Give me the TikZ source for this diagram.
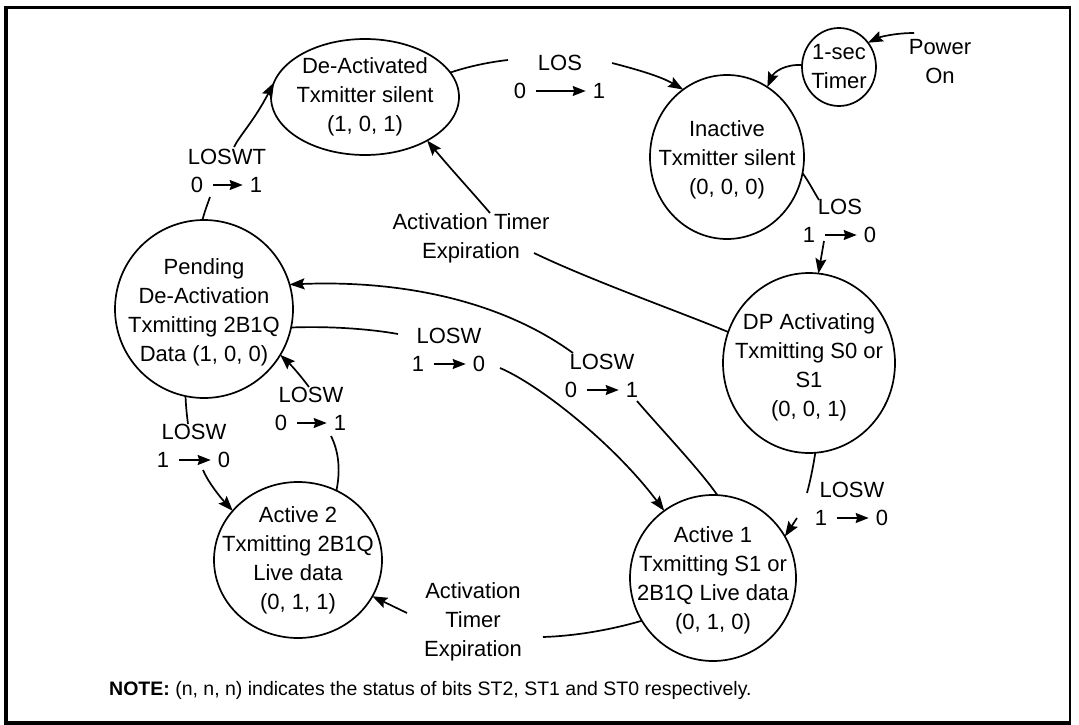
\documentclass[tikz,border=0pt]{standalone}
\usepackage{fontspec}
\setmainfont{Liberation Sans}
\usetikzlibrary{arrows.meta,shapes.geometric}
\newcommand\trlbl[7]{%
  \node[lbl] (#1) at (#2,#3) {#4};
  \node[lbl] (#1a) at ({#2-#7},{#3+28}) {#5};
  \node[lbl] (#1b) at ({#2+#7-1},{#3+28}) {#6};
  \draw[lblarrow] ([xshift=10pt]#1a.east) -- ([xshift=-7pt]#1b.west);
}
\begin{document}
\begin{tikzpicture}[x=1pt,y=-1pt,
  state/.style={ellipse,draw,line width=1.7pt,inner sep=0pt,outer sep=0pt},
  stxt/.style={align=center,font=\fontsize{22}{29}\selectfont,inner sep=0pt},
  lbl/.style={font=\fontsize{22}{27}\selectfont,inner sep=0pt,align=center},
  conn/.style={line width=1.7pt},
  arr/.style={conn,-{Stealth[length=15pt,width=11pt,inset=2.5pt]}},
  lblarrow/.style={line width=1.4pt,-{Stealth[length=13pt,width=10pt,inset=1.5pt]}},
]
\useasboundingbox (0,0) rectangle (1079,725);
% frame
\draw[line width=2.5pt] (6,7.5) rectangle (1070,722);
\draw[line width=4.5pt] (6,6.3) -- (6,723.5) -- (1071,723.5);

% states
\node[state,minimum width=188pt,minimum height=116pt,
  label={[stxt]center:{De-Activated\\Txmitter silent\\(1, 0, 1)}}] (deact) at (365,97) {};
\node[state,minimum width=154pt,minimum height=164pt,
  label={[stxt,yshift=-3pt]center:{Inactive\\Txmitter silent\\(0, 0, 0)}}] (inactive) at (727,157) {};
\node[state,minimum width=74pt,minimum height=78pt,
  label={[stxt]center:{1-sec\\Timer}}] (timer) at (839,67) {};
\node[state,minimum width=172pt,minimum height=180pt,
  label={[stxt,yshift=-4pt]center:{DP Activating\\Txmitting S0 or\\S1\\(0, 0, 1)}}] (dp) at (809,363) {};
\node[state,minimum width=166pt,minimum height=166pt,
  label={[stxt,yshift=-2pt]center:{Active 1\\Txmitting S1 or\\2B1Q Live data\\(0, 1, 0)}}] (a1) at (713,578) {};
\node[state,minimum width=168pt,minimum height=156pt,
  label={[stxt]center:{Active 2\\Txmitting 2B1Q\\Live data\\(0, 1, 1)}}] (a2) at (298,560) {};
\node[state,minimum width=178pt,minimum height=178pt,
  label={[stxt,yshift=-3pt]center:{Pending\\De-Activation\\Txmitting 2B1Q\\Data (1, 0, 0)}}] (pending) at (204,309) {};

\node[stxt] (power) at (940,62) {Power\\On};

% Power On -> timer
\coordinate (pw) at (914,33);
\draw[arr] (pw) .. controls (895,33) and (880,37) .. (timer.40);
% timer -> inactive
\draw[arr] (timer.177) .. controls (785,64) and (774,72) .. (inactive.60);

% De-Activated -> Inactive (LOS 0->1)
\trlbl{los1}{560}{63}{LOS}{0}{1}{40}
\coordinate (los1a) at (508,60);
\coordinate (los1b) at (612,63);
\draw[conn] (deact.16) .. controls (470,66) and (490,62) .. (los1a);
\draw[arr] (los1b) .. controls (635,69) and (660,76) .. (inactive.123);

% Inactive -> DP (LOS 1->0)
\trlbl{los2}{840}{207}{LOS}{1}{0}{31}
\coordinate (los2a) at (819,200);
\coordinate (los2b) at (824,241);
\draw[conn] (inactive.-12) .. controls (809,182) and (814,192) .. (los2a);
\draw[arr] (los2b) -- (dp.84);

% DP -> De-Activated (Activation Timer Expiration)
\node[stxt] (ate) at (471,238) {Activation Timer\\Expiration};
\coordinate (ate1) at (534,253);
\coordinate (ate2) at (490,213);
\draw[conn] (dp.159) .. controls (680,312) and (590,280) .. (ate1);
\draw[arr] (ate2) .. controls (472,192) and (450,168) .. (deact.-35);

% Pending -> De-Activated (LOSWT 0->1)
\trlbl{lwt}{227}{157}{LOSWT}{0}{1}{30}
\coordinate (lwt1) at (210,197);
\coordinate (lwt2) at (234,147);
\draw[conn] (pending.91) .. controls (205,210) and (208,203) .. (lwt1);
\draw[arr] (lwt2) .. controls (240,135) and (254,121) .. (deact.171);

% Active 1 -> Pending (LOSW 0->1)
\trlbl{lw1}{602}{362}{LOSW}{0}{1}{31}
\coordinate (lw1a) at (637,401);
\coordinate (lw1b) at (573,353);
\draw[conn] (a1.87) .. controls (700,470) and (660,428) .. (lw1a);
\draw[arr] (lw1b) .. controls (500,300) and (400,280) .. (pending.16);

% Pending -> Active 1 (LOSW 1->0)
\trlbl{lw2}{449}{336}{LOSW}{1}{0}{31}
\coordinate (lw2a) at (398,334);
\coordinate (lw2b) at (500,368);
\draw[conn] (pending.-12) .. controls (330,326) and (370,329) .. (lw2a);
\draw[arr] (lw2b) .. controls (540,385) and (615,445) .. (a1.126);

% Pending -> Active 2 (LOSW 1->0)
\trlbl{lw3}{194}{432}{LOSW}{1}{0}{31}
\coordinate (lw3a) at (188,424);
\coordinate (lw3b) at (203,470);
\draw[conn] (pending.-102) .. controls (186,408) and (187,416) .. (lw3a);
\draw[arr] (lw3b) .. controls (208,482) and (220,497) .. (a2.143);

% Active 2 -> Pending (LOSW 0->1)
\trlbl{lw4}{311}{395}{LOSW}{0}{1}{30}
\coordinate (lw4a) at (331,436);
\coordinate (lw4b) at (309,387);
\draw[conn] (a2.61) .. controls (341,468) and (338,450) .. (lw4a);
\draw[arr] (lw4b) .. controls (300,375) and (292,366) .. (pending.-31);

% DP -> Active 1 (LOSW 1->0)
\trlbl{lw5}{852}{490}{LOSW}{1}{0}{31}
\coordinate (lw5a) at (807,493);
\coordinate (lw5b) at (797,518);
\draw[conn] (dp.-86) .. controls (813,468) and (810,482) .. (lw5a);
\draw[arr] (lw5b) -- (a1.30);

% Active 1 -> Active 2 (Activation Timer Expiration)
\node[stxt] (ate4) at (473,622) {Activation\\Timer\\Expiration};
\coordinate (ate3) at (543,637);
\coordinate (ate5) at (407,613);
\draw[conn] (a1.211) .. controls (610,630) and (575,636) .. (ate3);
\draw[arr] (ate5) -- (a2.-26);

% note
\node[anchor=west,font=\fontsize{19.5}{23}\selectfont,inner sep=0pt] (note) at (109,690)
  {\textbf{NOTE:} (n, n, n) indicates the status of bits ST2, ST1 and ST0 respectively.};
\end{tikzpicture}
\end{document}
